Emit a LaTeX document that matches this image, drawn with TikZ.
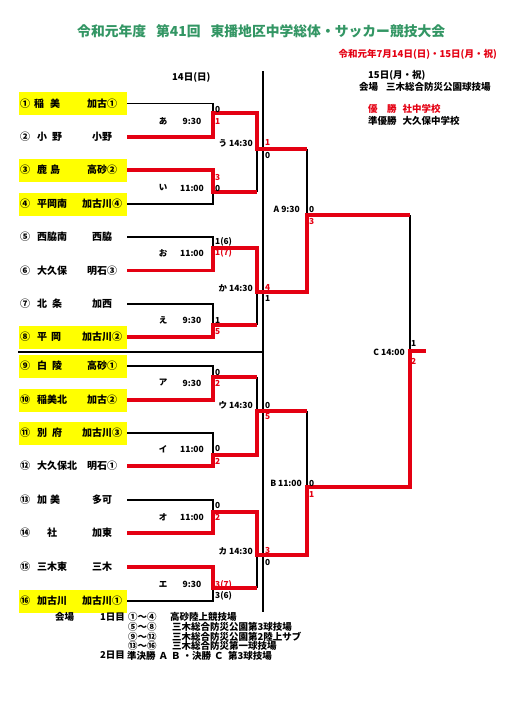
\documentclass[tikz,border=0pt]{standalone}
\usepackage{fontspec}
\setmainfont{Noto Sans CJK JP}
\definecolor{ttlgreen}{RGB}{51,150,100}
\definecolor{wred}{RGB}{228,0,18}
\definecolor{hiyel}{RGB}{255,255,0}
\newcommand\tmtext[3]{\makebox[108pt][l]{\hspace{1pt}\makebox[17pt][l]{#1}\makebox[45pt][l]{#2}\makebox[40pt][c]{#3}}}
\begin{document}
\begin{tikzpicture}[x=1pt,y=-1pt,
  lose/.style={line width=1.3pt, black},
  win/.style={line width=3.6pt, wred, line join=miter},
  frame/.style={line width=1.8pt, black},
  team/.style={anchor=west, inner xsep=0pt, inner ysep=0pt, minimum height=23pt, font=\fontsize{10}{12}\selectfont\bfseries},
  hl/.style={fill=hiyel},
  sc/.style={anchor=west, inner sep=0pt, font=\fontsize{8.3}{9}\selectfont\bfseries},
  scr/.style={sc, text=wred},
  mk/.style={inner sep=0pt, font=\fontsize{8.5}{10}\selectfont\bfseries},
  mkr/.style={mk, anchor=east},
  txt/.style={inner sep=0pt, anchor=west, font=\fontsize{9.5}{11}\selectfont\bfseries},
  ]
\useasboundingbox (0,0) rectangle (514,701);

% titles
\node[inner sep=0pt, anchor=west, text=ttlgreen, font=\fontsize{13.8}{16}\selectfont\bfseries] (title) at (77,31.5) {令和元年度\hspace{10pt}第41回\hspace{10pt}東播地区中学総体・サッカー競技大会};
\node[inner sep=0pt, anchor=east, text=wred, font=\fontsize{9.5}{11}\selectfont\bfseries] (date) at (497,54) {令和元年7月14日(日)・15日(月・祝)};
\node[txt] (day1) at (172,77) {14日(日)};
\node[txt] (day2) at (368,75.5) {15日(月・祝)};
\node[txt] (venue2) at (359,87) {会場\hspace{8pt}三木総合防災公園球技場};
\node[txt, text=wred] (champ) at (368,109) {優　勝\hspace{6pt}社中学校};
\node[txt] (runner) at (368,121) {準優勝\hspace{6pt}大久保中学校};

% frame lines
\coordinate (vtop) at (263,71);
\coordinate (vbot) at (263,612);
\coordinate (hl) at (18,352);
\coordinate (hr) at (263,352);
\draw[frame] (vtop) -- (vbot);
\draw[line width=1.4pt] (hl) -- (hr);

% teams
\node[team,hl] (t1) at (19,103.5) {\tmtext{①}{\hspace{-3pt}稲\hspace{6pt}美}{加古①}};
\node[team] (t2) at (19,137) {\tmtext{②}{小\hspace{5pt}野}{小野}};
\node[team,hl] (t3) at (19,170) {\tmtext{③}{鹿\hspace{3pt}島}{高砂②}};
\node[team,hl] (t4) at (19,204) {\tmtext{④}{平岡南}{加古川④}};
\node[team] (t5) at (19,237) {\tmtext{⑤}{西脇南}{西脇}};
\node[team] (t6) at (19,270.5) {\tmtext{⑥}{大久保}{明石③}};
\node[team] (t7) at (19,304) {\tmtext{⑦}{北\hspace{5pt}条}{加西}};
\node[team,hl] (t8) at (19,337) {\tmtext{⑧}{平\hspace{4pt}岡}{加古川②}};
\node[team,hl] (t9) at (19,366) {\tmtext{⑨}{白\hspace{5pt}陵}{高砂①}};
\node[team,hl] (t10) at (19,400) {\tmtext{⑩}{稲美北}{加古②}};
\node[team,hl] (t11) at (19,433) {\tmtext{⑪}{別\hspace{5pt}府}{加古川③}};
\node[team] (t12) at (19,466) {\tmtext{⑫}{大久保北}{明石①}};
\node[team] (t13) at (19,500) {\tmtext{⑬}{加\hspace{3pt}美}{多可}};
\node[team] (t14) at (19,533) {\tmtext{⑭}{\hspace{10pt}社}{加東}};
\node[team] (t15) at (19,567) {\tmtext{⑮}{三木東}{三木}};
\node[team,hl] (t16) at (19,601) {\tmtext{⑯}{加古川}{加古川①}};

% junctions round 1 (x=213) and their exits (x=257)
\foreach \n/\y in {ja/113, ji/192, jo/248, je/325, jA/377, jI/455, jO/512, jE/588} {
  \coordinate (\n) at (213,\y);
  \coordinate (x\n) at (257,\y);
}
% round 2
\foreach \n/\y in {ju/149, jk/292, jU/411, jK/555} {
  \coordinate (\n) at (257,\y);
  \coordinate (x\n) at (307,\y);
}
% semifinals
\foreach \n/\y in {jSA/215, jSB/487} {
  \coordinate (\n) at (307,\y);
  \coordinate (x\n) at (410,\y);
}
\coordinate (jC) at (410,351);
\coordinate (xjC) at (426,351);

% losing lines
\draw[lose] (t1.east) -| (ja);
\draw[lose] (t4.east) -| (ji);
\draw[lose] (t5.east) -| (jo);
\draw[lose] (t7.east) -| (je);
\draw[lose] (t9.east) -| (jA);
\draw[lose] (t11.east) -| (jI);
\draw[lose] (t13.east) -| (jO);
\draw[lose] (t16.east) -| (jE);
\draw[lose] (xji) -- (ju);
\draw[lose] (xje) -- (jk);
\draw[lose] (xjA) -- (jU);
\draw[lose] (xjE) -- (jK);
\draw[lose] (xju) -- (jSA);
\draw[lose] (xjU) -- (jSB);
\draw[lose] (xjSA) -- (jC);

% winning lines
\draw[win] (t2.east) -| (ja) -- (xja) -- (ju) -- (xju);
\draw[win] (t3.east) -| (ji) -- (xji);
\draw[win] (t6.east) -| (jo) -- (xjo) -- (jk) -- (xjk) -- (jSA) -- (xjSA);
\draw[win] (t8.east) -| (je) -- (xje);
\draw[win] (t10.east) -| (jA) -- (xjA);
\draw[win] (t12.east) -| (jI) -- (xjI) -- (jU) -- (xjU);
\draw[win] (t15.east) -| (jE) -- (xjE);
\draw[win] (t14.east) -| (jO) -- (xjO) -- (jK) -- (xjK) -- (jSB) -- (xjSB) -- (jC) -- (xjC);

% match labels round 1
\foreach \n/\k/\t/\y in {ma/あ/9:30/121, mi/い/11:00/188, mo/お/11:00/253, me/え/9:30/320, mA/ア/9:30/383, mI/イ/11:00/449, mO/オ/11:00/517, mE/エ/9:30/584} {
  \node[mk] (\n k) at (163,\y) {\k};
  \node[mk] (\n t) at (192,\y) {\t};
}
\node[mkr] (mu) at (253,143) {う 14:30};
\node[mkr] (mk) at (253,288) {か 14:30};
\node[mkr] (mU) at (253,405) {ウ 14:30};
\node[mkr] (mK) at (253,551) {カ 14:30};
\node[mkr] (mSA) at (300,209) {A 9:30};
\node[mkr] (mSB) at (302,483) {B 11:00};
\node[mkr] (mC) at (405,352) {C 14:00};

% scores
\node[sc] (s1) at (215,109) {0};
\node[scr] (s2) at (215,121) {1};
\node[scr] (s3) at (215,177) {3};
\node[sc] (s4) at (215,188) {0};
\node[sc] (s5) at (215,242) {1(6)};
\node[scr] (s6) at (215,253) {1(7)};
\node[sc] (s7) at (215,320) {1};
\node[scr] (s8) at (215,332) {5};
\node[sc] (s9) at (215,372) {0};
\node[scr] (s10) at (215,383) {2};
\node[sc] (s11) at (215,448) {0};
\node[scr] (s12) at (215,461) {2};
\node[sc] (s13) at (215,505) {0};
\node[scr] (s14) at (215,517) {2};
\node[scr] (s15) at (215,585) {3(7)};
\node[sc] (s16) at (215,596) {3(6)};
\node[scr] (su1) at (265,142) {1};
\node[sc] (su2) at (265,155) {0};
\node[scr] (sk1) at (265,287) {4};
\node[sc] (sk2) at (265,298) {1};
\node[sc] (sU1) at (265,405) {0};
\node[scr] (sU2) at (265,417) {5};
\node[scr] (sK1) at (265,550) {3};
\node[sc] (sK2) at (265,562) {0};
\node[sc] (sA1) at (309,209) {0};
\node[scr] (sA2) at (309,221) {3};
\node[sc] (sB1) at (309,483) {0};
\node[scr] (sB2) at (309,494) {1};
\node[sc] (sC1) at (411,343) {1};
\node[scr] (sC2) at (411,361) {2};

% venue notes
\node[txt] (n0) at (55,617) {会場};
\node[txt] (n1) at (100,617) {1日目};
\node[txt] (n1a) at (128,617) {①〜④};
\node[txt] (n1b) at (170,617) {高砂陸上競技場};
\node[txt] (n2a) at (128,627) {⑤〜⑧};
\node[txt] (n2b) at (172,627) {三木総合防災公園第3球技場};
\node[txt] (n3a) at (128,636.5) {⑨〜⑫};
\node[txt] (n3b) at (172,636.5) {三木総合防災公園第2陸上サブ};
\node[txt] (n4a) at (128,646) {⑬〜⑯};
\node[txt] (n4b) at (172,646) {三木総合防災第一球技場};
\node[txt] (n5) at (100,655.5) {2日目};
\node[txt] (n5a) at (127,655.5) {準決勝\hspace{3pt}Ａ\hspace{3pt}Ｂ\hspace{2pt}・決勝\hspace{3pt}Ｃ};
\node[txt] (n5b) at (228,655.5) {第3球技場};
\end{tikzpicture}
\end{document}
